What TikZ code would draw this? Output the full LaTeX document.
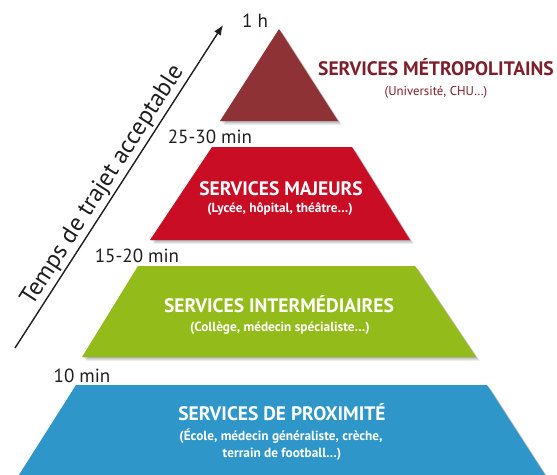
\documentclass[tikz,border=0pt]{standalone}
\usepackage{fontspec}
\setmainfont{PT Sans}
\usetikzlibrary{arrows.meta}
\definecolor{metro}{HTML}{8E3236}
\definecolor{metrotext}{HTML}{7E1F2C}
\definecolor{majeur}{HTML}{C80D24}
\definecolor{inter}{HTML}{93BC1A}
\definecolor{proxi}{HTML}{2E96C8}
\definecolor{labelgray}{HTML}{1E1E1E}
\newcommand\pyrlevel[2]{%
  \foreach \s in {1.2,2.4,3.6}{\fill[black,opacity=0.11,shift={(\s,\s)}] #1;}
  \fill[#2] #1;}
\begin{document}
\begin{tikzpicture}[x=1pt,y=-1pt,
  title/.style={text=white,font=\bfseries\fontsize{19.5}{21}\selectfont,inner sep=0pt,anchor=base},
  sub/.style={text=white,font=\bfseries\fontsize{13.3}{15}\selectfont,inner sep=0pt,anchor=base},
  msub/.style={text=metrotext,font=\fontsize{12.8}{15}\selectfont,inner sep=0pt,anchor=base},
  timelbl/.style={text=labelgray,font=\fontsize{19}{21}\selectfont,inner sep=0pt,anchor=base},
  axis/.style={draw=labelgray,line width=1.4pt,-{Latex[length=10pt,width=8pt]}},
  axislbl/.style={text=labelgray,font=\fontsize{24.5}{27}\selectfont,inner sep=2pt}]
\useasboundingbox[fill=white] (0,0) rectangle (557,474);
% pyramid levels
\pyrlevel{(220,121) -- (279,29) -- (338,121) -- cycle}{metro}
\pyrlevel{(150,240) -- (212,147) -- (352,147) -- (410,240) -- cycle}{majeur}
\pyrlevel{(82,357) -- (138,266) -- (415,266) -- (476,357) -- cycle}{inter}
\pyrlevel{(17,478) -- (76,385) -- (487,385) -- (547,478) -- cycle}{proxi}
% texts
\node[title,text=metrotext] (metroT) at (436,75) {SERVICES MÉTROPOLITAINS};
\node[msub] (metroS) at (436,95) {(Université, CHU…)};
\node[title] (majT) at (281,195) {SERVICES MAJEURS};
\node[sub] (majS) at (280,212) {(Lycée, hôpital, théâtre…)};
\node[title] (intT) at (279,312) {SERVICES INTERMÉDIAIRES};
\node[sub] (intS) at (280,331) {(Collège, médecin spécialiste…)};
\node[title] (proT) at (282,420) {SERVICES DE PROXIMITÉ};
\node[sub] (proS1) at (281,440) {(École, médecin généraliste, crèche,};
\node[sub] (proS2) at (282,457) {terrain de football…)};
% times
\node[timelbl] (t1) at (255,27) {1 h};
\node[timelbl] (t2) at (210,143) {25-30 min};
\node[timelbl] (t3) at (137,262) {15-20 min};
\node[timelbl] (t4) at (82,382) {10 min};
% axis
\coordinate (ax0) at (15,348);
\coordinate (ax1) at (223,25);
\draw[axis] (ax0) -- node[axislbl,sloped,above,pos=0.48] (axl) {Temps de trajet acceptable} (ax1);
\end{tikzpicture}
\end{document}
